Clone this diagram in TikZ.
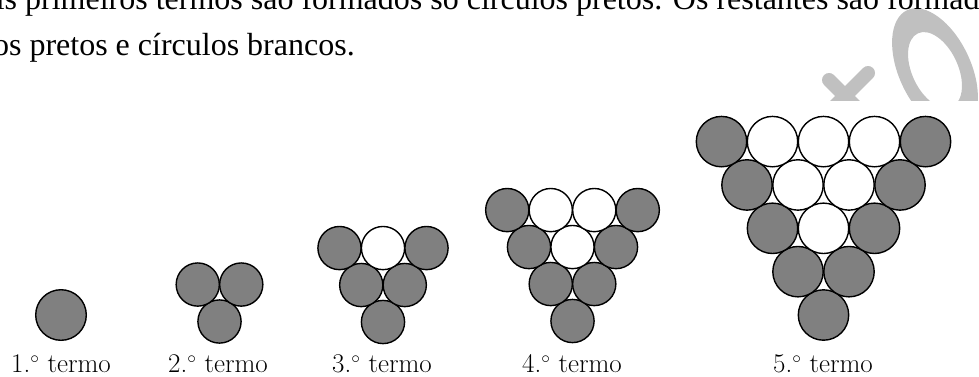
\documentclass[tikz,border=0pt]{standalone}
\usepackage{fontspec}
\newfontfamily\tnr{Liberation Serif}
\definecolor{ballgrey}{RGB}{128,128,128}
\definecolor{logogrey}{RGB}{192,192,192}
\tikzset{
  gcirc/.style={draw=black, fill=ballgrey, line width=1.4pt},
  wcirc/.style={draw=black, fill=white, line width=1.4pt},
  lbl/.style={inner sep=0pt, anchor=base, font=\fontsize{27}{32}\selectfont},
  toptext/.style={inner sep=0pt, anchor=base west, font=\tnr\fontsize{32}{38}\selectfont},
  logo/.style={draw=logogrey, line width=14pt, line cap=round}
}
% #1 x0, #2 y0 (bottom circle centre), #3 pitch, #4 radius, #5 rows
\newcommand\triterm[5]{%
  \foreach \k in {1,...,#5}{%
    \foreach \i in {1,...,\k}{%
      \pgfmathsetmacro\cx{#1+(\i-(\k+1)/2)*#3}%
      \pgfmathsetmacro\cy{#2-(\k-1)*0.85*#3}%
      \pgfmathtruncatemacro\iswhite{(\i>1)*(\i<\k)}%
      \ifnum\iswhite=1
        \draw[wcirc] (\cx,\cy) circle[radius=#4pt];
      \else
        \draw[gcirc] (\cx,\cy) circle[radius=#4pt];
      \fi
    }%
  }%
}
\begin{document}
\begin{tikzpicture}[x=1pt,y=-1pt]
\useasboundingbox (0,0) rectangle (979,376);
\clip (0,0) rectangle (979,376);
\fill[white] (0,0) rectangle (979,376);
% logo (cut off at y = 100)
\begin{scope}
  \clip (780,0) rectangle (979,100);
  \draw[logo] (829,80) -- (870,121);
  \draw[logo] (868,73) -- (827,114);
  \begin{scope}[shift={(935,70)}, rotate=25]
    \fill[logogrey, even odd rule] (0,0) ellipse [x radius=36pt, y radius=66pt]
                                   (0,0) ellipse [x radius=23pt, y radius=40.5pt];
  \end{scope}
\end{scope}
% top text (cropped)
\node[toptext] (line1) at (-80,9.5) {Os dois primeiros termos são formados só círculos pretos. Os restantes são formados por};
\node[toptext] (line2) at (-80,55) {círculos pretos e círculos brancos.};
% terms
\draw[gcirc] (61,315) circle[radius=25.3pt];
\triterm{219.5}{321.5}{43.5}{21.6}{2}
\triterm{383}{322}{43.5}{21.6}{3}
\triterm{572.5}{321}{43.5}{21.6}{4}
\triterm{823.5}{315}{51}{25.2}{5}
% labels
\node[lbl] (t1) at (61,372.5) {1.$^{\circ}$ termo};
\node[lbl] (t2) at (218,372.5) {2.$^{\circ}$ termo};
\node[lbl] (t3) at (382,372.5) {3.$^{\circ}$ termo};
\node[lbl] (t4) at (572,372.5) {4.$^{\circ}$ termo};
\node[lbl] (t5) at (823,372.5) {5.$^{\circ}$ termo};
\end{tikzpicture}
\end{document}
